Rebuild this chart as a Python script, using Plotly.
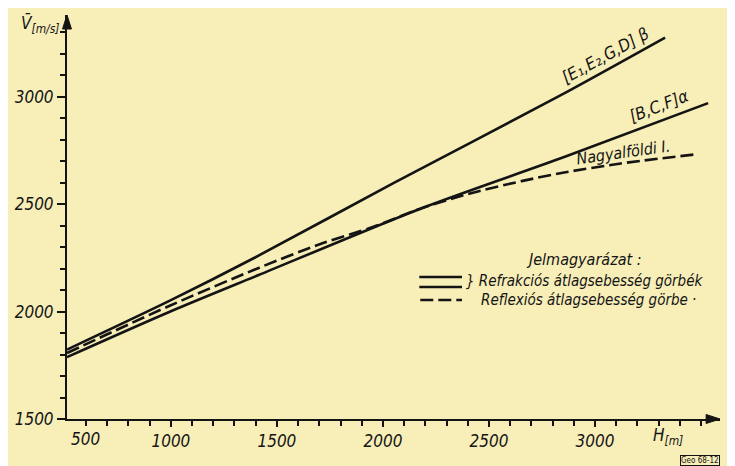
import plotly.graph_objects as go

# ---- data ----
H_beta = [510, 1000, 1390, 2054, 2826, 3331]
V_beta = [1823, 2053, 2248, 2600, 3000, 3275]

H_alpha = [510, 992, 1414, 2186, 2855, 3534]
V_alpha = [1788, 1998, 2170, 2482, 2719, 2970]

H_nagy = [510, 992, 1414, 1718, 1952, 2186, 2420, 2654, 2855, 3122, 3487]
V_nagy = [1807, 2026, 2203, 2319, 2393, 2482, 2552, 2607, 2647, 2689, 2733]

x_major = [1000, 1500, 2000, 2500, 3000]
x_major_text = ["1000", "1500", "2000", "2500", "3000"]
x_minor = list(range(600, 3501, 100))
y_major = [1500, 2000, 2500, 3000]
y_major_text = ["1500", "2000", "2500", "3000"]
y_minor = list(range(1600, 3301, 100))

label_beta = "[E₁,E₂,G,D] β"
label_alpha = "[B,C,F]α"
label_nagy = "Nagyalföldi I."

INK = "#141414"
PAPER = "#f7eeb8"
FONT = "DejaVu Sans Condensed, DejaVu Sans, sans-serif"

PW, PH = 658.0, 404.0  # plot area size in px


def px_x(px):
    return (px - 62) / PW


def px_y(py):
    return (419 - py) / PH


def it(s):
    return f"<i>{s}</i>"


fig = go.Figure()
for H, V, dash in [(H_beta, V_beta, "solid"), (H_alpha, V_alpha, "solid"),
                   (H_nagy, V_nagy, "13px,5px")]:
    fig.add_trace(go.Scatter(x=H, y=V, mode="lines",
                             line=dict(color=INK, width=2.6, shape="spline",
                                       smoothing=0.8, dash=dash),
                             showlegend=False, hoverinfo="skip"))

tickfont = dict(family=FONT, size=17, color=INK, style="italic")
axis_common = dict(showgrid=False, zeroline=False, showline=True, linecolor=INK,
                   linewidth=2, ticks="outside", tickcolor=INK, tickwidth=1.6,
                   tickfont=tickfont)

fig.update_xaxes(range=[510, 3590], tickmode="array", tickvals=x_major,
                 ticktext=[it(t) for t in x_major_text], ticklen=6,
                 minor=dict(tickmode="array", tickvals=x_minor, ticks="outside",
                            ticklen=5, tickcolor=INK, tickwidth=1.6),
                 **axis_common)
fig.update_yaxes(range=[1500, 3380], tickmode="array", tickvals=y_major,
                 ticktext=[it(t) for t in y_major_text], ticklen=8,
                 minor=dict(tickmode="array", tickvals=y_minor, ticks="outside",
                            ticklen=5, tickcolor=INK, tickwidth=1.6),
                 **axis_common)

lab_font = dict(family=FONT, size=17, color=INK, style="italic")
ann = []
# "500" label near origin
ann.append(dict(x=510, y=0, xref="x", yref="paper", xanchor="left", yanchor="top",
                yshift=-8, xshift=2, text=it("500"), showarrow=False, font=tickfont))
# axis titles
ann.append(dict(x=px_x(14), y=px_y(24), xref="paper", yref="paper", xanchor="left",
                yanchor="middle", showarrow=False, text=it("V̄<sub>[m/s]</sub>"),
                font=lab_font))
ann.append(dict(x=px_x(650), y=px_y(436), xref="paper", yref="paper", xanchor="left",
                yanchor="middle", showarrow=False, text=it("H<sub>[m]</sub>"),
                font=lab_font))
# stamp
ann.append(dict(x=px_x(720), y=px_y(460), xref="paper", yref="paper", xanchor="right",
                yanchor="middle", showarrow=False, text="Geo 68-12",
                font=dict(family=FONT, size=8, color=INK), bordercolor=INK,
                borderwidth=1, borderpad=0))
# curve labels
ann.append(dict(x=3052, y=3194, xref="x", yref="y", text=it(label_beta), textangle=-29,
                xanchor="center", yanchor="middle", showarrow=False, font=lab_font))
ann.append(dict(x=3300, y=2956, xref="x", yref="y", text=it(label_alpha), textangle=-21,
                xanchor="center", yanchor="middle", showarrow=False, font=lab_font))
ann.append(dict(x=3132, y=2740, xref="x", yref="y", text=it(label_nagy), textangle=-8,
                xanchor="center", yanchor="middle", showarrow=False,
                font=dict(family=FONT, size=16, color=INK, style="italic")))
# legend text
ann.append(dict(x=px_x(583), y=px_y(259), xref="paper", yref="paper",
                xanchor="center", yanchor="middle", text=it("Jelmagyarázat :"),
                showarrow=False,
                font=dict(family=FONT, size=16, color=INK, style="italic")))
ann.append(dict(x=px_x(462), y=px_y(281), xref="paper", yref="paper", xanchor="left",
                yanchor="middle", text=it("} Refrakciós átlagsebesség görbék"),
                showarrow=False,
                font=dict(family=FONT, size=15, color=INK, style="italic")))
ann.append(dict(x=px_x(477), y=px_y(300), xref="paper", yref="paper", xanchor="left",
                yanchor="middle", text=it("Reflexiós átlagsebesség görbe ·"),
                showarrow=False,
                font=dict(family=FONT, size=15, color=INK, style="italic")))

ax_w, ax_h = 14.0, 4.5
shapes = [
    # legend glyphs
    dict(type="line", xref="paper", yref="paper", x0=px_x(417), x1=px_x(460),
         y0=px_y(277), y1=px_y(277), line=dict(color=INK, width=2.4)),
    dict(type="line", xref="paper", yref="paper", x0=px_x(417), x1=px_x(460),
         y0=px_y(287), y1=px_y(287), line=dict(color=INK, width=2.4)),
    dict(type="line", xref="paper", yref="paper", x0=px_x(418), x1=px_x(460),
         y0=px_y(300), y1=px_y(300), line=dict(color=INK, width=2.4, dash="13px,5px")),
    # axis arrowheads
    dict(type="path", xref="paper", yref="paper",
         path=f"M 1 0 L {1 - ax_w / PW} {ax_h / PH} L {1 - ax_w / PW} {-ax_h / PH} Z",
         fillcolor=INK, line=dict(color=INK, width=1)),
    dict(type="path", xref="paper", yref="paper",
         path=f"M 0 1 L {-ax_h / PW} {1 - ax_w / PH} L {ax_h / PW} {1 - ax_w / PH} Z",
         fillcolor=INK, line=dict(color=INK, width=1)),
]

# page body has an 8px margin, so the margins are reduced by 8px at left/top
fig.update_layout(width=735, height=466, autosize=False,
                  margin=dict(l=54, r=23, t=7, b=55),
                  paper_bgcolor=PAPER, plot_bgcolor=PAPER,
                  annotations=ann, shapes=shapes, showlegend=False)

fig.write_html("out.html")
